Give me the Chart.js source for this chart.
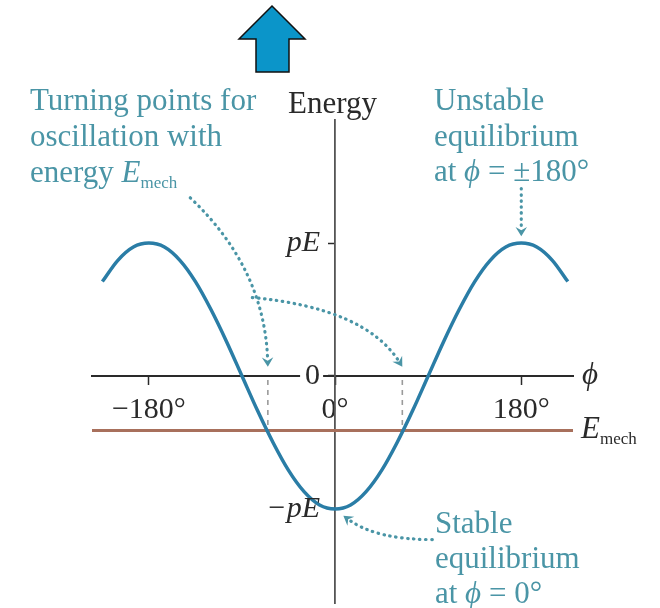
<!DOCTYPE html>
<html>
<head>
<meta charset="utf-8">
<title>Dipole energy</title>
<script src="https://cdn.jsdelivr.net/npm/chart.js@4.4.1/dist/chart.umd.min.js"></script>
<style>
  body { margin: 0; background: #fff; }
  #wrap { position: relative; width: 660px; height: 608px; }
  #up { position: absolute; left: 0; top: 0; }
</style>
</head>
<body>
<div id="wrap">
  <canvas id="energyChart"></canvas>
  <svg id="up" width="660" height="80">
    <polygon points="272,6 305,39 289,39 289,72 256,72 256,39 239,39" fill="#0b95c9" stroke="#111" stroke-width="1.5"/>
  </svg>
</div>
<script>
// angle in degrees, energy in units of pE
var phi = [-225, -210, -195, -180, -165, -150, -135, -120, -105, -90, -75, -60, -45, -30, -15,
  0, 15, 30, 45, 60, 75, 90, 105, 120, 135, 150, 165, 180, 195, 210, 225];
var energy = [0.71, 0.87, 0.97, 1.00, 0.97, 0.87, 0.71, 0.50, 0.26, 0.00, -0.26, -0.50, -0.71, -0.87, -0.97,
  -1.00, -0.97, -0.87, -0.71, -0.50, -0.26, 0.00, 0.26, 0.50, 0.71, 0.87, 0.97, 1.00, 0.97, 0.87, 0.71];
var eMech = -0.41;
var turningPhi = [-65, 65];

var xTicks = [-180, 0, 180];
var xTickLabels = ['−180°', '0°', '180°'];
var yTicks = [-1, 0, 1];
var yTickLabels = ['−pE', '0', 'pE'];

var teal = '#4a95a6';
var ink = '#2a2a2a';
var serif = '"Liberation Serif", "Times New Roman", serif';

// dotted pointers, in (deg, pE) units: start, control, end
var pointers = [
  { from: [-140, 1.34], ctrl: [-68, 0.81], to: [-65, 0.07] },
  { from: [-80, 0.59], ctrl: [29, 0.51], to: [65, 0.07] },
  { from: [180, 1.41], ctrl: [180, 1.23], to: [180, 1.05] },
  { from: [94, -1.23], ctrl: [39, -1.23], to: [8, -1.05] }
];

// text blocks; '*' = italic run, '_' = subscript run
var notes = [
  { x: 30, y: 110, color: teal, runs: ['Turning points for'] },
  { x: 30, y: 146, color: teal, runs: ['oscillation with'] },
  { x: 30, y: 182, color: teal, runs: ['energy ', '*E', '_mech'] },
  { x: 434, y: 110, color: teal, runs: ['Unstable'] },
  { x: 434, y: 146, color: teal, runs: ['equilibrium'] },
  { x: 434, y: 181, color: teal, runs: ['at ', '*ϕ', ' = ±180°'] },
  { x: 435, y: 533, color: teal, runs: ['Stable'] },
  { x: 435, y: 568, color: teal, runs: ['equilibrium'] },
  { x: 435, y: 603, color: teal, runs: ['at ', '*ϕ', ' = 0°'] },
  { x: 288, y: 113, color: ink, runs: ['Energy'] },
  { x: 582, y: 384, color: ink, runs: ['*ϕ'] },
  { x: 581, y: 438, color: ink, runs: ['*E', '_mech'] }
];

function drawRuns(ctx, x, y, runs) {
  runs.forEach(function (r) {
    var mode = r.charAt(0);
    var t = r, size = 31, dy = 0, style = '';
    if (mode === '*') { t = r.slice(1); style = 'italic '; }
    if (mode === '_') { t = r.slice(1); size = 17; dy = 6; }
    ctx.font = style + size + 'px ' + serif;
    ctx.fillText(t, x, y + dy);
    x += ctx.measureText(t).width;
  });
}

var annotations = {
  id: 'annotations',
  afterDraw: function (chart) {
    var ctx = chart.ctx;
    var xs = chart.scales.x, ys = chart.scales.y;
    function px(p) { return [xs.getPixelForValue(p[0]), ys.getPixelForValue(p[1])]; }

    ctx.save();
    ctx.strokeStyle = teal;
    ctx.fillStyle = teal;
    pointers.forEach(function (a) {
      var p0 = px(a.from), c = px(a.ctrl), p1 = px(a.to);
      var ang = Math.atan2(p1[1] - c[1], p1[0] - c[0]);
      ctx.lineWidth = 3.2;
      ctx.lineCap = 'round';
      ctx.setLineDash([0.5, 5.5]);
      ctx.beginPath();
      ctx.moveTo(p0[0], p0[1]);
      ctx.quadraticCurveTo(c[0], c[1], p1[0] - 6 * Math.cos(ang), p1[1] - 6 * Math.sin(ang));
      ctx.stroke();
      ctx.setLineDash([]);
      // arrow head
      ctx.beginPath();
      ctx.moveTo(p1[0], p1[1]);
      ctx.lineTo(p1[0] - 11 * Math.cos(ang - 0.55), p1[1] - 11 * Math.sin(ang - 0.55));
      ctx.lineTo(p1[0] - 6 * Math.cos(ang), p1[1] - 6 * Math.sin(ang));
      ctx.lineTo(p1[0] - 11 * Math.cos(ang + 0.55), p1[1] - 11 * Math.sin(ang + 0.55));
      ctx.closePath();
      ctx.fill();
    });

    ctx.textBaseline = 'alphabetic';
    ctx.textAlign = 'left';
    notes.forEach(function (n) {
      ctx.fillStyle = n.color;
      drawRuns(ctx, n.x, n.y, n.runs);
    });
    ctx.restore();
  }
};

var curvePoints = phi.map(function (p, i) { return { x: p, y: energy[i] }; });

var datasets = [
  {
    data: curvePoints,
    borderColor: '#2a7da6',
    borderWidth: 3.5,
    pointRadius: 0,
    cubicInterpolationMode: 'monotone',
    order: 0
  },
  {
    data: [{ x: -235, y: eMech }, { x: 230, y: eMech }],
    borderColor: '#a8705c',
    borderWidth: 3,
    pointRadius: 0,
    order: 1
  }
];
turningPhi.forEach(function (t) {
  datasets.push({
    data: [{ x: t, y: -0.03 }, { x: t, y: eMech }],
    borderColor: '#9a9a9a',
    borderWidth: 1.6,
    borderDash: [5, 5],
    pointRadius: 0,
    order: 2
  });
});

// axes sit inside the plot, so they should not push the plot area in
function noPadding(s) {
  s.paddingTop = 0; s.paddingBottom = 0; s.paddingLeft = 0; s.paddingRight = 0;
}

Chart.defaults.font.family = serif;
Chart.defaults.color = ink;

new Chart(document.getElementById('energyChart'), {
  type: 'line',
  data: { datasets: datasets },
  options: {
    responsive: true,
    maintainAspectRatio: false,
    animation: false,
    layout: { padding: { left: 92, right: 87, top: 120, bottom: 5 } },
    plugins: { legend: { display: false }, tooltip: { enabled: false } },
    scales: {
      x: {
        type: 'linear',
        min: -235,
        max: 230,
        position: { y: 0 },
        afterBuildTicks: function (s) { s.ticks = xTicks.map(function (v) { return { value: v }; }); },
        afterFit: noPadding,
        grid: { drawOnChartArea: false, tickLength: 8, tickColor: ink, tickWidth: 1.5 },
        border: { color: ink, width: 2 },
        ticks: {
          padding: 8,
          color: ink,
          font: { size: 30 },
          maxRotation: 0,
          callback: function (v) { return xTickLabels[xTicks.indexOf(v)]; }
        }
      },
      y: {
        type: 'linear',
        min: -1.707,
        max: 1.925,
        position: { x: 0 },
        afterBuildTicks: function (s) { s.ticks = yTicks.map(function (v) { return { value: v }; }); },
        afterFit: noPadding,
        grid: { drawOnChartArea: false, tickLength: 6, tickColor: ink, tickWidth: 1.5 },
        border: { color: '#555', width: 1.8 },
        ticks: {
          z: 1,
          color: ink,
          font: function (c) {
            return c.tick && c.tick.value === 0 ? { size: 30 } : { size: 30, style: 'italic' };
          },
          showLabelBackdrop: function (c) { return c.tick && c.tick.value === 0; },
          backdropColor: '#fff',
          backdropPadding: { left: 5, right: -12, top: 0, bottom: 0 },
          // labels sit right on the centred axis, trailing spaces leave room for the tick
          callback: function (v) { return yTickLabels[yTicks.indexOf(v)] + '  '; }
        }
      }
    }
  },
  plugins: [annotations]
});
</script>
</body>
</html>
